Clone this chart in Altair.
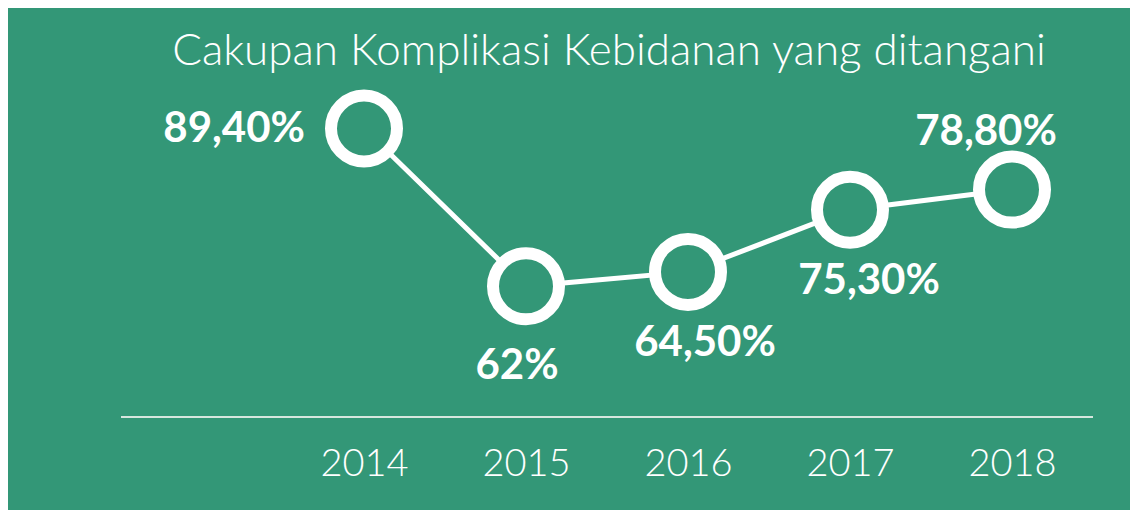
import altair as alt
import pandas as pd

years = ["2014", "2015", "2016", "2017", "2018"]
values = [89.4, 62.0, 64.5, 75.3, 78.8]
labels = ["89,40%", "62%", "64,50%", "75,30%", "78,80%"]
title_text = "Cakupan Komplikasi Kebidanan yang ditangani"

df = pd.DataFrame({"year": years, "value": values, "label": labels})

GREEN = "#339777"

x_enc = alt.X("year:O", scale=alt.Scale(type="point", domain=years, range=[275, 1085], padding=0.5),
              axis=alt.Axis(title=None, domain=False, ticks=False, grid=False, labelAngle=0,
                            labelFont="Lato", labelFontSize=38, labelFontWeight=300,
                            labelColor="white", labelPadding=28))
y_enc = alt.Y("value:Q", scale=alt.Scale(domain=[39.3, 94.7], nice=False, zero=False), axis=None)

base = alt.Chart(df)

one = pd.DataFrame({"t": [title_text]})

baseline = alt.Chart(one).mark_rule(color="#d6e6de", strokeWidth=2).encode(
    x=alt.value(113), x2=alt.value(1085), y=alt.value(319))

title = alt.Chart(one).mark_text(font="Lato", fontSize=44, fontWeight=300, color="white",
                                 align="center", baseline="alphabetic").encode(
    x=alt.value(601), y=alt.value(-33), text="t:N")

line = base.mark_line(color="white", strokeWidth=5).encode(x=x_enc, y=y_enc)
points = base.mark_point(shape="circle", filled=True, fill=GREEN, stroke="white",
                         strokeWidth=12, size=4356, opacity=1).encode(x=x_enc, y=y_enc)

offsets = {
    "2014": dict(align="right", dx=-59, dy=0),
    "2015": dict(align="center", dx=-9, dy=80),
    "2016": dict(align="center", dx=17, dy=71),
    "2017": dict(align="center", dx=19, dy=71),
    "2018": dict(align="center", dx=-26, dy=-58),
}
texts = []
for yr, o in offsets.items():
    texts.append(
        base.transform_filter(alt.datum.year == yr).mark_text(
            font="Lato", fontSize=42, fontWeight="bold", color="white", baseline="middle", **o
        ).encode(x=x_enc, y=y_enc, text="label:N")
    )

chart = alt.layer(baseline, title, line, points, *texts).properties(
    width=1122, height=319,
    background=GREEN,
    padding={"left": 0, "top": 90, "right": 0, "bottom": 93},
    autosize=alt.AutoSizeParams(type="none"),
).configure_view(stroke=None)

chart.save("out.html", embed_options={"renderer": "svg", "actions": False})
